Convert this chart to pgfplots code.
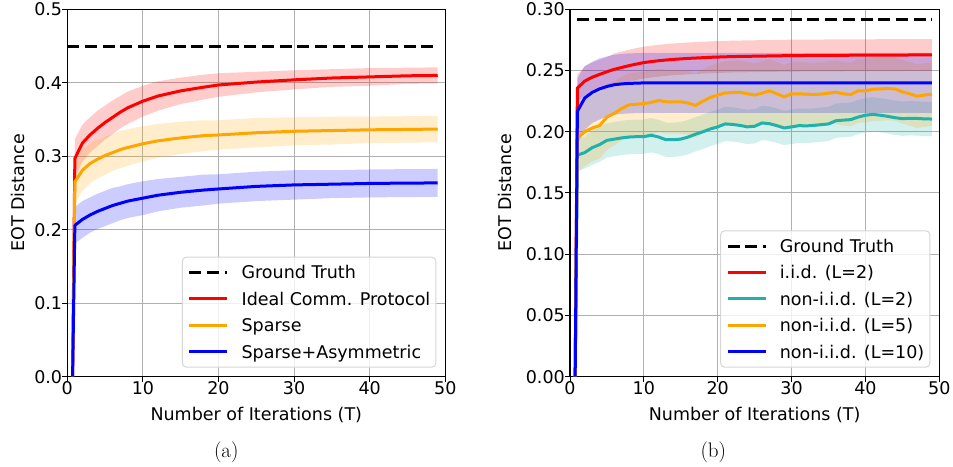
\documentclass[border=0pt]{standalone}
\usepackage{fontspec}
\usepackage{pgfplots}
\pgfplotsset{compat=1.18}
\usepackage{pgfplotstable}
\usepgfplotslibrary{fillbetween}
\newfontfamily\dejavu{DejaVu Sans}
\newcommand\ff{\dejavu\fontsize{17.5}{21}\selectfont}
\definecolor{cred}{RGB}{255,0,0}
\definecolor{corange}{RGB}{255,165,0}
\definecolor{cblue}{RGB}{0,0,255}
\definecolor{cteal}{RGB}{32,178,170}
\definecolor{cgrid}{RGB}{176,176,176}
\definecolor{clegend}{RGB}{214,214,214}

\pgfplotstableread{
x    r      rs     o      os     b      bs
0.7  0      0      0      0      0      0
1    0.297  0.026  0.265  0.030  0.206  0.025
2    0.318  0.025  0.281  0.028  0.214  0.025
3    0.329  0.024  0.290  0.027  0.220  0.024
4    0.338  0.024  0.296  0.026  0.225  0.024
5    0.346  0.023  0.301  0.026  0.229  0.024
6    0.353  0.023  0.305  0.025  0.233  0.024
7    0.360  0.022  0.309  0.025  0.236  0.023
8    0.366  0.022  0.312  0.025  0.239  0.023
10   0.375  0.021  0.317  0.024  0.243  0.023
12   0.382  0.020  0.321  0.023  0.247  0.022
15   0.389  0.018  0.325  0.022  0.251  0.021
18   0.394  0.017  0.328  0.021  0.254  0.021
20   0.397  0.016  0.329  0.020  0.2555 0.020
25   0.401  0.014  0.332  0.020  0.259  0.020
30   0.404  0.013  0.334  0.019  0.261  0.020
35   0.4065 0.012  0.335  0.019  0.262  0.019
40   0.408  0.012  0.336  0.018  0.263  0.019
45   0.4095 0.011  0.3365 0.018  0.2635 0.019
49   0.410  0.011  0.337  0.018  0.2637 0.019
}\ldata

\pgfplotstableread{
x    r      rs     t      ts     o      os     b      bs
0.7  0      0      0      0      0      0      0      0
1    0.2357 0.011  0.181  0.013  0.195  0.028  0.2167 0.027
2    0.2414 0.012  0.183  0.013  0.200  0.028  0.2276 0.026
3    0.2445 0.012  0.187  0.014  0.203  0.027  0.2321 0.025
4    0.2468 0.012  0.1895 0.014  0.205  0.027  0.2350 0.025
5    0.2490 0.012  0.193  0.014  0.212  0.027  0.2370 0.0245
6    0.2510 0.013  0.194  0.014  0.215  0.026  0.2384 0.0245
7    0.2525 0.013  0.195  0.014  0.219  0.026  0.2391 0.0245
8    0.2540 0.013  0.1957 0.014  0.222  0.026  0.2395 0.0245
9    0.2553 0.013  0.196  0.014  0.2225 0.026  0.2397 0.0245
10   0.2565 0.013  0.196  0.014  0.223  0.026  0.2399 0.0245
11   0.2573 0.013  0.1972 0.014  0.224  0.026  0.2400 0.0245
12   0.2580 0.013  0.1957 0.014  0.2255 0.026  0.2400 0.0245
13   0.2586 0.013  0.1935 0.014  0.2245 0.026  0.2400 0.0245
14   0.2591 0.013  0.1935 0.014  0.2245 0.026  0.2400 0.0245
15   0.2595 0.013  0.194  0.014  0.2245 0.026  0.2400 0.0245
16   0.2599 0.013  0.1957 0.014  0.2235 0.026  0.2400 0.0245
17   0.2602 0.013  0.198  0.014  0.2215 0.026  0.2400 0.0245
18   0.2605 0.013  0.200  0.014  0.225  0.026  0.2400 0.0245
19   0.2608 0.013  0.2023 0.014  0.228  0.026  0.2400 0.0245
20   0.2610 0.013  0.204  0.014  0.230  0.026  0.2400 0.0245
21   0.2612 0.013  0.2064 0.014  0.2317 0.026  0.2400 0.0245
22   0.2614 0.013  0.206  0.014  0.232  0.026  0.2400 0.0245
23   0.2615 0.013  0.2052 0.014  0.2323 0.026  0.2400 0.0245
24   0.2616 0.013  0.204  0.014  0.231  0.026  0.2400 0.0245
25   0.2617 0.013  0.2045 0.014  0.230  0.026  0.2400 0.0245
26   0.2618 0.013  0.2072 0.014  0.2315 0.026  0.2400 0.0245
27   0.2619 0.013  0.2066 0.014  0.2334 0.026  0.2400 0.0245
28   0.2620 0.013  0.205  0.014  0.231  0.026  0.2400 0.0245
29   0.2621 0.013  0.2031 0.014  0.2285 0.026  0.2400 0.0245
30   0.2622 0.013  0.204  0.014  0.231  0.026  0.2400 0.0245
31   0.2622 0.013  0.205  0.014  0.231  0.026  0.2400 0.0245
32   0.2623 0.013  0.2048 0.014  0.2307 0.026  0.2400 0.0245
33   0.2623 0.013  0.2052 0.014  0.2305 0.026  0.2400 0.0245
34   0.2623 0.013  0.2058 0.014  0.2307 0.026  0.2400 0.0245
35   0.2624 0.013  0.2064 0.014  0.2315 0.026  0.2400 0.0245
36   0.2624 0.013  0.209  0.014  0.2323 0.026  0.2400 0.0245
37   0.2624 0.013  0.2095 0.014  0.231  0.026  0.2400 0.0245
38   0.2625 0.013  0.2099 0.014  0.2304 0.026  0.2400 0.0245
39   0.2625 0.013  0.212  0.014  0.2334 0.026  0.2400 0.0245
40   0.2625 0.013  0.2135 0.014  0.2334 0.026  0.2400 0.0245
41   0.2625 0.013  0.2142 0.014  0.2347 0.026  0.2400 0.0245
42   0.2626 0.013  0.2135 0.014  0.235  0.026  0.2400 0.0245
43   0.2626 0.013  0.2126 0.014  0.2353 0.026  0.2400 0.0245
44   0.2626 0.013  0.2115 0.014  0.235  0.026  0.2400 0.0245
45   0.2626 0.013  0.2107 0.014  0.2326 0.026  0.2400 0.0245
46   0.2627 0.013  0.211  0.014  0.231  0.026  0.2400 0.0245
47   0.2627 0.013  0.2109 0.014  0.229  0.026  0.2400 0.0245
48   0.2627 0.013  0.2105 0.014  0.230  0.026  0.2400 0.0245
49   0.2627 0.013  0.2104 0.014  0.2307 0.026  0.2400 0.0245
}\rdata

\pgfplotsset{
  mystyle/.style={
    scale only axis, height=367.4pt,
    xmin=0, xmax=50, ymin=0,
    xtick={0,10,20,30,40,50},
    tick pos=left, tick align=outside, major tick length=5pt,
    tick style={black, line width=1pt},
    axis line style={black, line width=1.1pt},
    grid=major, major grid style={cgrid, line width=1pt},
    /pgf/number format/assume math mode=true,
    tick label style={font=\ff},
    xticklabel style={anchor=north, inner sep=0pt},
    yticklabel style={anchor=east, inner sep=0pt},
    xlabel={Number of Iterations (T)},
    xlabel style={font=\ff, at={(axis description cs:0.5,0)}, anchor=base, inner sep=0pt, yshift=-44.3pt},
    ylabel={EOT Distance},
    legend cell align=left,
    legend image code/.code={\draw[##1] (0pt,0pt) -- (38pt,0pt);},
    legend style={at={(rel axis cs:1,0)}, anchor=south east, xshift=-9pt, yshift=9pt,
      font=\ff, draw=clegend, line width=1pt, rounded corners=4pt,
      fill=white, fill opacity=0.8, text opacity=1,
      inner xsep=5.5pt, inner ysep=9pt, row sep=13.6pt,
      nodes={inner sep=0pt, text height=12.8pt, text depth=0pt},
      /tikz/every odd column/.style={column sep=12.7pt}},
  },
  band/.style={draw=none, forget plot},
  ln/.style={line width=3pt, line join=round},
}

\begin{document}
\begin{tikzpicture}
\path (0,0) rectangle (953pt,465pt);

\begin{axis}[mystyle, at={(67.3pt,88.3pt)}, anchor=south west, width=378pt,
  ymax=0.5, ytick={0,0.1,0.2,0.3,0.4,0.5},
  yticklabel style={/pgf/number format/fixed, /pgf/number format/fixed zerofill, /pgf/number format/precision=1},
  ylabel style={font=\ff, at={(axis description cs:-0.1119,0.5)}, anchor=south, inner sep=0pt}]
\addplot[band, name path=ru] table[x=x, y expr=\thisrow{r}+\thisrow{rs}] {\ldata};
\addplot[band, name path=rl] table[x=x, y expr=\thisrow{r}-\thisrow{rs}] {\ldata};
\addplot[band, name path=ou] table[x=x, y expr=\thisrow{o}+\thisrow{os}] {\ldata};
\addplot[band, name path=ol] table[x=x, y expr=\thisrow{o}-\thisrow{os}] {\ldata};
\addplot[band, name path=bu] table[x=x, y expr=\thisrow{b}+\thisrow{bs}] {\ldata};
\addplot[band, name path=bl] table[x=x, y expr=\thisrow{b}-\thisrow{bs}] {\ldata};
\addplot[fill=cred, fill opacity=0.2, draw=none, forget plot] fill between[of=ru and rl];
\addplot[fill=corange, fill opacity=0.2, draw=none, forget plot] fill between[of=ou and ol];
\addplot[fill=cblue, fill opacity=0.2, draw=none, forget plot] fill between[of=bu and bl];
\addplot[black, line width=3pt, dash pattern=on 12pt off 5.7pt] coordinates {(0,0.45) (49,0.45)};
\addlegendentry{Ground Truth}
\addplot[cred, ln] table[x=x, y=r] {\ldata};
\addlegendentry{Ideal Comm. Protocol}
\addplot[corange, ln] table[x=x, y=o] {\ldata};
\addlegendentry{Sparse}
\addplot[cblue, ln] table[x=x, y=b] {\ldata};
\addlegendentry{Sparse+Asymmetric}
\end{axis}

\begin{axis}[mystyle, at={(570pt,88.3pt)}, anchor=south west, width=369.3pt,
  ymax=0.30, ytick={0,0.05,0.10,0.15,0.20,0.25,0.30},
  yticklabel style={/pgf/number format/fixed, /pgf/number format/fixed zerofill, /pgf/number format/precision=2},
  ylabel style={font=\ff, at={(axis description cs:-0.157,0.5)}, anchor=south, inner sep=0pt}]
\addplot[band, name path=ru] table[x=x, y expr=\thisrow{r}+\thisrow{rs}] {\rdata};
\addplot[band, name path=rl] table[x=x, y expr=\thisrow{r}-\thisrow{rs}] {\rdata};
\addplot[band, name path=tu] table[x=x, y expr=\thisrow{t}+\thisrow{ts}] {\rdata};
\addplot[band, name path=tl] table[x=x, y expr=\thisrow{t}-\thisrow{ts}] {\rdata};
\addplot[band, name path=ou] table[x=x, y expr=\thisrow{o}+\thisrow{os}] {\rdata};
\addplot[band, name path=ol] table[x=x, y expr=\thisrow{o}-\thisrow{os}] {\rdata};
\addplot[band, name path=bu] table[x=x, y expr=\thisrow{b}+\thisrow{bs}] {\rdata};
\addplot[band, name path=bl] table[x=x, y expr=\thisrow{b}-\thisrow{bs}] {\rdata};
\addplot[fill=cred, fill opacity=0.2, draw=none, forget plot] fill between[of=ru and rl];
\addplot[fill=cteal, fill opacity=0.2, draw=none, forget plot] fill between[of=tu and tl];
\addplot[fill=corange, fill opacity=0.2, draw=none, forget plot] fill between[of=ou and ol];
\addplot[fill=cblue, fill opacity=0.2, draw=none, forget plot] fill between[of=bu and bl];
\addplot[black, line width=3pt, dash pattern=on 12pt off 5.7pt] coordinates {(1,0.2913) (49,0.2913)};
\addlegendentry{Ground Truth}
\addplot[cred, ln] table[x=x, y=r] {\rdata};
\addlegendentry{i.i.d. (L=2)}
\addplot[cteal, ln] table[x=x, y=t] {\rdata};
\addlegendentry{non-i.i.d. (L=2)}
\addplot[corange, ln] table[x=x, y=o] {\rdata};
\addlegendentry{non-i.i.d. (L=5)}
\addplot[cblue, ln] table[x=x, y=b] {\rdata};
\addlegendentry{non-i.i.d. (L=10)}
\end{axis}

\node[font=\fontsize{21}{25}\selectfont, anchor=base] at (226.3pt,7pt) {(a)};
\node[font=\fontsize{21}{25}\selectfont, anchor=base] at (713.3pt,7pt) {(b)};
\end{tikzpicture}
\end{document}
